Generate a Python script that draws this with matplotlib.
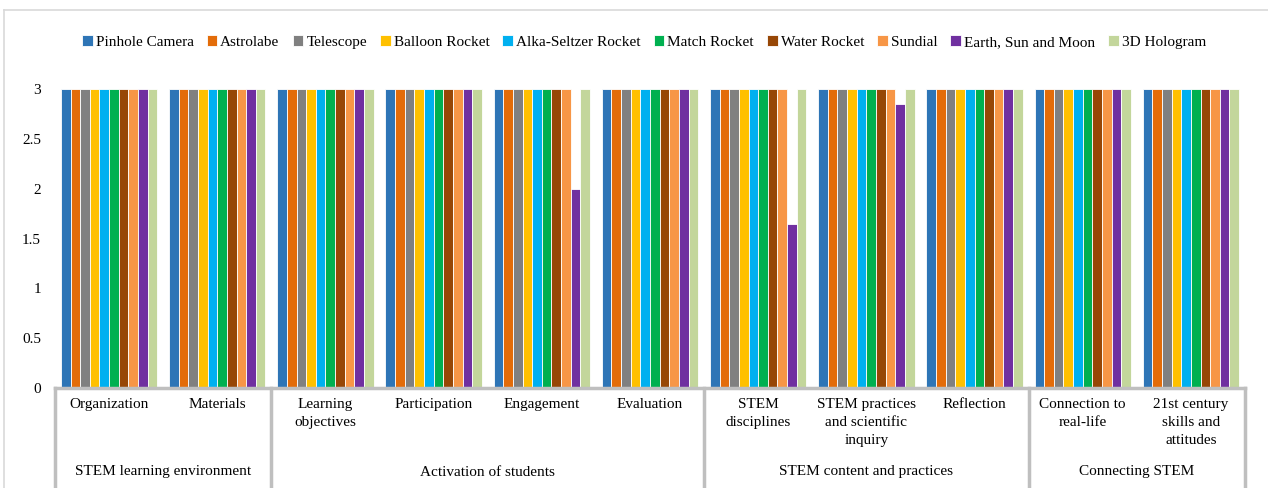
import matplotlib
matplotlib.use("Agg")
import matplotlib.pyplot as plt
import numpy as np
from matplotlib.lines import Line2D
from matplotlib.transforms import blended_transform_factory

plt.rcParams["font.family"] = ["Liberation Serif", "DejaVu Serif"]

# subcategory labels (lower level of the axis) and their groups
criteria = ["Organization", "Materials", "Learning\nobjectives", "Participation",
            "Engagement", "Evaluation", "STEM\ndisciplines",
            "STEM practices\nand scientific\ninquiry", "Reflection",
            "Connection to\nreal-life", "21st century\nskills and\nattitudes"]
groups = ["STEM learning environment", "Activation of students",
          "STEM content and practices", "Connecting STEM"]
group_sizes = [2, 4, 3, 2]

activities = ["Pinhole Camera", "Astrolabe", "Telescope", "Balloon Rocket",
              "Alka-Seltzer Rocket", "Match Rocket", "Water Rocket", "Sundial",
              "Earth, Sun and Moon", "3D Hologram"]

pinhole_camera = [3, 3, 3, 3, 3, 3, 3, 3, 3, 3, 3]
astrolabe = [3, 3, 3, 3, 3, 3, 3, 3, 3, 3, 3]
telescope = [3, 3, 3, 3, 3, 3, 3, 3, 3, 3, 3]
balloon_rocket = [3, 3, 3, 3, 3, 3, 3, 3, 3, 3, 3]
alka_seltzer_rocket = [3, 3, 3, 3, 3, 3, 3, 3, 3, 3, 3]
match_rocket = [3, 3, 3, 3, 3, 3, 3, 3, 3, 3, 3]
water_rocket = [3, 3, 3, 3, 3, 3, 3, 3, 3, 3, 3]
sundial = [3, 3, 3, 3, 3, 3, 3, 3, 3, 3, 3]
earth_sun_moon = [3, 3, 3, 3, 2, 3, 1.65, 2.85, 3, 3, 3]
hologram_3d = [3, 3, 3, 3, 3, 3, 3, 3, 3, 3, 3]

series = [pinhole_camera, astrolabe, telescope, balloon_rocket, alka_seltzer_rocket,
          match_rocket, water_rocket, sundial, earth_sun_moon, hologram_3d]
colors = ["#2E75B6", "#E36C09", "#808080", "#FFC000", "#00B0F0",
          "#00B050", "#974706", "#F79646", "#7030A0", "#C3D69B"]

W, H = 1268, 488
fig = plt.figure(figsize=(W / 100, H / 100), dpi=100)
ax = fig.add_axes([55 / W, 1 - 388 / H, (1245 - 55) / W, (388 - 89) / H])

n = len(series)
x = np.arange(len(criteria))
bw = 0.089
for i, (vals, col, lab) in enumerate(zip(series, colors, activities)):
    ax.bar(x + (i - (n - 1) / 2) * bw, vals, bw, color=col, label=lab,
           edgecolor="white", linewidth=0.6)

ax.set_xlim(-0.5, len(criteria) - 0.5)
ax.set_ylim(0, 3)
ax.set_yticks(np.arange(0, 3.01, 0.5))
ax.set_yticklabels(["0", "0.5", "1", "1.5", "2", "2.5", "3"], fontsize=11)
ax.tick_params(axis="y", length=0, pad=10)
ax.set_xticks([])
for s in ["top", "right", "left"]:
    ax.spines[s].set_visible(False)
ax.spines["bottom"].set_color("#bfbfbf")
ax.spines["bottom"].set_linewidth(2.5)

# two-level category axis
tr = blended_transform_factory(ax.transData, fig.transFigure)
for xi, lab in zip(x, criteria):
    ax.text(xi, 1 - 398 / H, lab, transform=tr, ha="center", va="top",
            fontsize=11, linespacing=1.5)
bounds = np.concatenate([[0], np.cumsum(group_sizes)]) - 0.5
for gi, g in enumerate(groups):
    ax.text((bounds[gi] + bounds[gi + 1]) / 2, 1 - 472 / H, g, transform=tr,
            ha="center", va="center", fontsize=11)
for b in bounds:
    ax.add_line(Line2D([b, b], [1 - 388 / H, 0], transform=tr, color="#bfbfbf",
                       lw=2.5, clip_on=False))

# outer chart frame (partially visible)
fig.add_artist(Line2D([4 / W, 1], [1 - 10 / H, 1 - 10 / H], color="#d9d9d9", lw=1.2))
fig.add_artist(Line2D([4 / W, 4 / W], [0, 1 - 10 / H], color="#d9d9d9", lw=1.2))

fig.legend(loc="center", bbox_to_anchor=(644 / W, 1 - 42 / H), ncol=10,
           frameon=False, fontsize=11, handlelength=0.7, handleheight=0.7,
           handletextpad=0.2, columnspacing=0.85)

fig.savefig("out.png", dpi=100)
